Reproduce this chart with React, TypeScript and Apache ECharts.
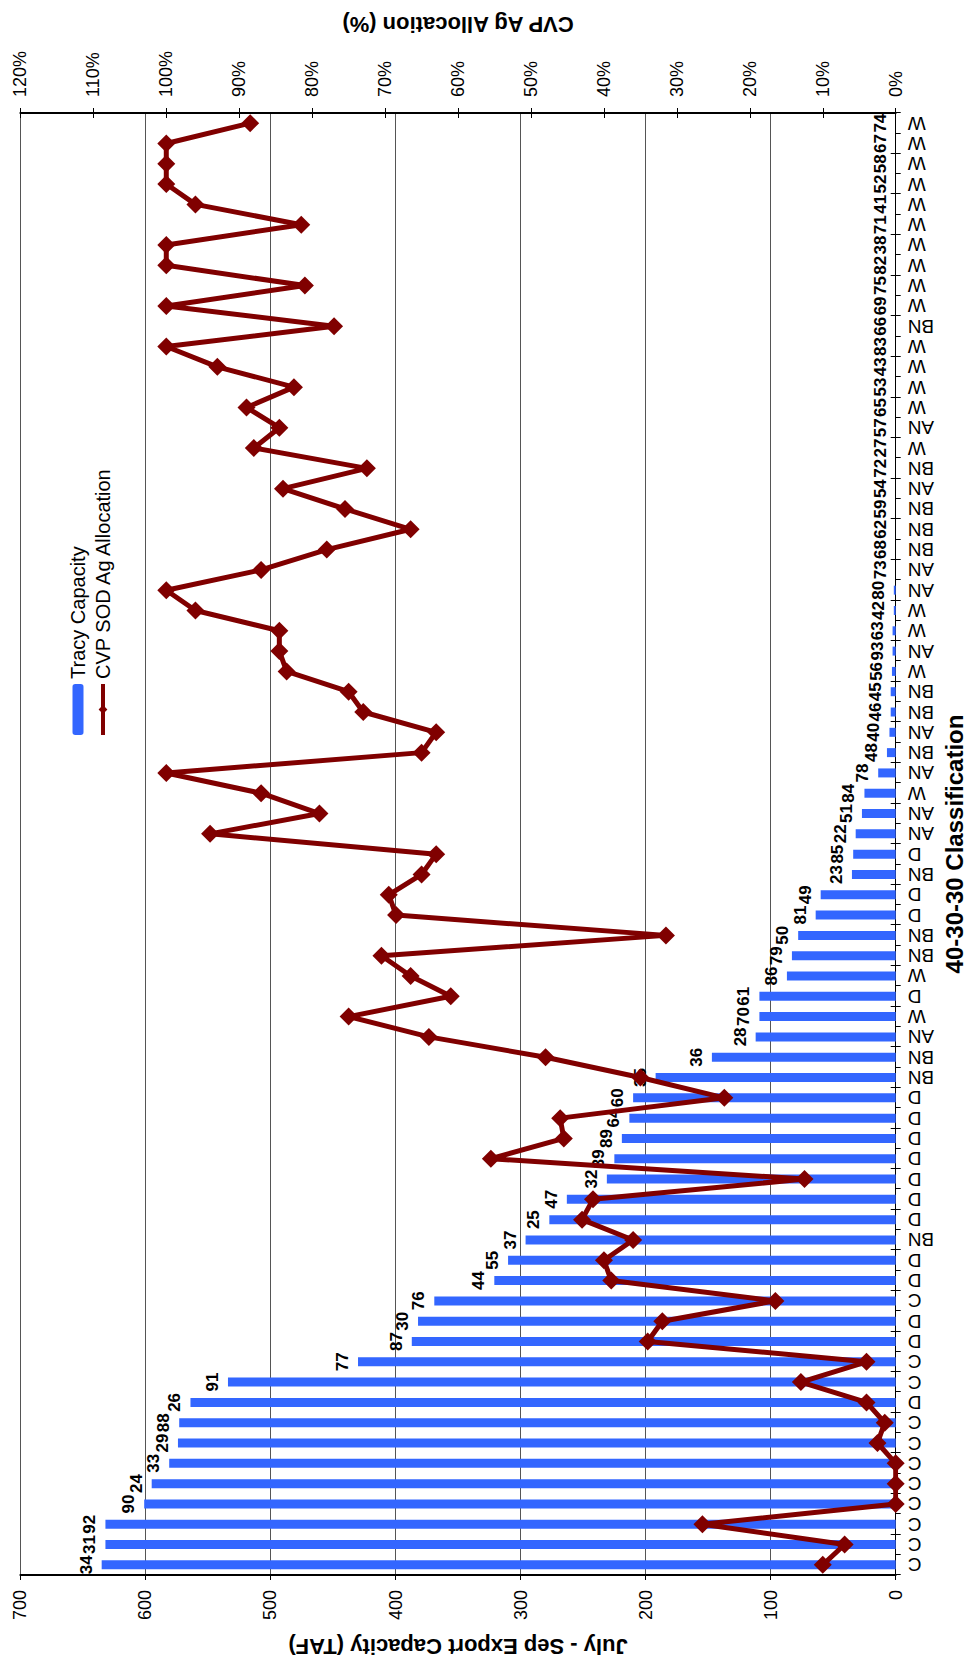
import React, { useEffect, useRef } from "react";
import * as echarts from "echarts";

// Water years (two-digit), ordered from the first category (bottom of the page) upward
const years: string[] = [
  "34", "31", "92", "90", "24", "33", "29", "88", "26", "91", "77", "87", "30", "76", "44",
  "55", "37", "25", "47", "32", "39", "89", "64", "60", "35", "36", "28", "70", "61", "86",
  "79", "50", "81", "49", "23", "85", "22", "51", "84", "78", "48", "40", "46", "45",
  "56", "93", "63", "42", "80", "73", "68", "62", "59", "54", "72", "27", "57", "65",
  "53", "43", "83", "66", "69", "75", "82", "38", "71", "41", "52", "58", "67", "74",
];

// 40-30-30 classification of each year
const classes: string[] = [
  "C", "C", "C", "C", "C", "C", "C", "C", "D", "C", "C", "D", "D", "C", "D",
  "D", "BN", "D", "D", "D", "D", "D", "D", "D", "BN", "BN", "AN", "W", "D", "W",
  "BN", "BN", "D", "D", "BN", "D", "AN", "AN", "W", "AN", "BN", "AN", "BN", "BN",
  "W", "AN", "W", "W", "AN", "AN", "BN", "BN", "BN", "AN", "BN", "W", "AN", "W",
  "W", "W", "W", "BN", "W", "W", "W", "W", "W", "W", "W", "W", "W", "W",
];

// July - Sep export capacity at Tracy (TAF)
const tracyCapacity: number[] = [
  635, 632, 632, 601, 595, 581, 574, 573, 564, 534, 430, 387, 382, 369, 321,
  310, 296, 277, 263, 231, 225, 219, 213, 210, 192, 147, 112, 109, 109, 87,
  83, 78, 64, 60, 35, 34, 32, 27, 25, 14, 7, 5, 4, 4,
  3, 2.5, 2.5, 1.5, 1.5, 0, 0, 0, 0, 0, 0, 0, 0, 0,
  0, 0, 0, 0, 0, 0, 0, 0, 0, 0, 0, 0, 0, 0,
];

// CVP south-of-Delta Ag allocation (%)
const agAllocation: number[] = [
  10, 7, 26.5, 0, 0, 0, 2.5, 1.5, 4, 13, 4, 34, 32, 16.5, 39,
  40, 36, 43, 41.5, 12.5, 55.5, 45.5, 46, 23.5, 35, 48, 64, 75, 61, 66.5,
  70.5, 31.5, 68.5, 69.5, 65, 63, 94, 79, 87, 100, 65, 63, 73, 75,
  83.5, 84.5, 84.5, 96, 100, 87, 78, 66.5, 75.5, 84, 72.5, 88, 84.5, 89,
  82.5, 93, 100, 77, 100, 81, 100, 100, 81.5, 96, 100, 100, 100, 88.5,
];

const FONT = 'Arial, "Liberation Sans", sans-serif';

export default function App() {
  const ref = useRef<HTMLDivElement | null>(null);

  useEffect(() => {
    if (!ref.current) return;
    const chart = echarts.init(ref.current, undefined, { renderer: "svg" });
    chart.setOption({
      animation: false,
      backgroundColor: "#ffffff",
      textStyle: { fontFamily: FONT },
      grid: { left: 94, right: 113, top: 20.4, bottom: 68, containLabel: false },
      legend: {
        orient: "vertical",
        left: 927,
        top: 63,
        itemWidth: 51,
        itemHeight: 11,
        itemGap: 5,
        lineStyle: { width: 4 },
        textStyle: { fontSize: 20, color: "#000", fontFamily: FONT },
        data: [
          { name: "Tracy Capacity" },
          { name: "CVP SOD Ag Allocation", lineStyle: { width: 4, color: "#800000" } },
        ],
      },
      xAxis: [
        {
          type: "category",
          data: classes,
          position: "bottom",
          boundaryGap: true,
          axisLine: { show: true, lineStyle: { color: "#000", width: 1 } },
          axisTick: { show: true, inside: false, length: 5, lineStyle: { color: "#000" } },
          axisLabel: { interval: 0, rotate: 90, margin: 12, fontSize: 19, color: "#000", fontFamily: FONT },
          splitLine: { show: false },
          name: "40-30-30 Classification",
          nameLocation: "middle",
          nameGap: 46,
          nameTextStyle: { fontSize: 24, fontWeight: "bold", color: "#000", fontFamily: FONT },
        },
        {
          type: "category",
          data: classes,
          position: "bottom",
          boundaryGap: true,
          axisLine: { show: false },
          axisTick: { show: true, inside: true, length: 5, lineStyle: { color: "#000" } },
          axisLabel: { show: false },
          splitLine: { show: false },
        },
      ],
      yAxis: [
        {
          type: "value",
          min: 0,
          max: 700,
          interval: 100,
          position: "left",
          axisLine: { show: true, lineStyle: { color: "#000", width: 2 } },
          axisTick: { show: true, length: 5, lineStyle: { color: "#000" } },
          axisLabel: { fontSize: 18, color: "#000", margin: 15, fontFamily: FONT },
          splitLine: { show: true, lineStyle: { color: "#555", width: 1 } },
          name: "July - Sep Export Capacity (TAF)",
          nameLocation: "middle",
          nameRotate: 90,
          nameGap: 60,
          nameTextStyle: { fontSize: 22, fontWeight: "bold", color: "#000", fontFamily: FONT },
        },
        {
          type: "value",
          min: 0,
          max: 120,
          interval: 10,
          position: "right",
          axisLine: { show: true, lineStyle: { color: "#000", width: 2 } },
          axisTick: { show: true, length: 5, lineStyle: { color: "#000" } },
          axisLabel: { formatter: "{value}%", fontSize: 18, color: "#000", margin: 16, fontFamily: FONT },
          splitLine: { show: false },
          name: "CVP Ag Allocation (%)",
          nameLocation: "middle",
          nameRotate: 90,
          nameGap: 78,
          nameTextStyle: { fontSize: 22, fontWeight: "bold", color: "#000", fontFamily: FONT },
        },
        {
          type: "value",
          min: 0,
          max: 120,
          interval: 10,
          position: "right",
          axisLine: { show: false },
          axisTick: { show: true, inside: true, length: 5, lineStyle: { color: "#000" } },
          axisLabel: { show: false },
          splitLine: { show: false },
        },
      ],
      series: [
        {
          name: "Tracy Capacity",
          type: "bar",
          xAxisIndex: 0,
          yAxisIndex: 0,
          data: tracyCapacity,
          barWidth: 9,
          itemStyle: { color: "#3366FF" },
          label: {
            show: true,
            position: "top",
            distance: 7,
            formatter: (p: any) => years[p.dataIndex],
            fontSize: 17,
            fontWeight: "bold",
            color: "#000",
            fontFamily: FONT,
          },
          z: 2,
        },
        {
          name: "CVP SOD Ag Allocation",
          type: "line",
          xAxisIndex: 0,
          yAxisIndex: 1,
          data: agAllocation,
          symbol: "diamond",
          symbolSize: 18,
          lineStyle: { color: "#800000", width: 5 },
          itemStyle: { color: "#800000" },
          z: 3,
        },
      ],
    });
    return () => chart.dispose();
  }, []);

  return (
    <div
      style={{
        position: "fixed",
        left: 0,
        top: 0,
        width: 971,
        height: 1669,
        overflow: "hidden",
        background: "#ffffff",
      }}
    >
      <div
        ref={ref}
        style={{
          position: "absolute",
          left: 0,
          top: 0,
          width: 1669,
          height: 971,
          transformOrigin: "0 0",
          transform: "translate(0px, 1669px) rotate(-90deg)",
        }}
      />
    </div>
  );
}
